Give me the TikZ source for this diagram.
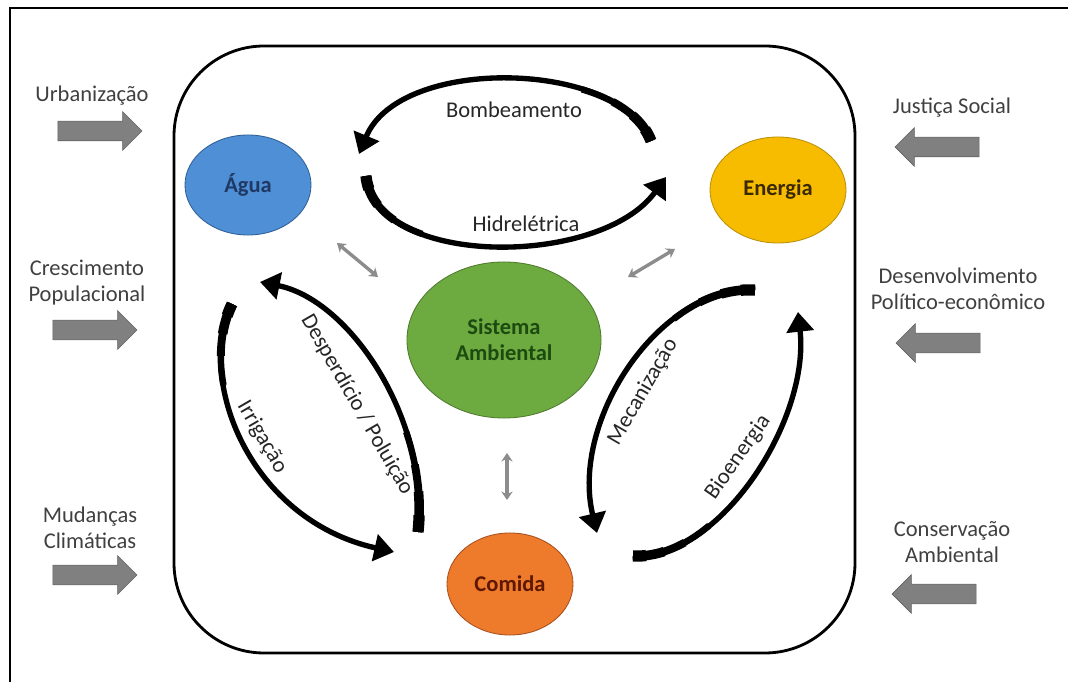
\documentclass[tikz,border=0pt]{standalone}
\usepackage{fontspec}
\setmainfont{Carlito}
\usetikzlibrary{arrows.meta,shapes.geometric,shapes.arrows,calc}

\definecolor{aguafill}{HTML}{4F8FD6}
\definecolor{aguaedge}{HTML}{2E5F95}
\definecolor{aguatext}{HTML}{1F3864}
\definecolor{energiafill}{HTML}{F7BC00}
\definecolor{energiaedge}{HTML}{B8900A}
\definecolor{energiatext}{HTML}{3B2A00}
\definecolor{sistemafill}{HTML}{6DAB40}
\definecolor{sistemaedge}{HTML}{4E7A2E}
\definecolor{sistematext}{HTML}{1D4A10}
\definecolor{comidafill}{HTML}{EE7A2C}
\definecolor{comidaedge}{HTML}{A65020}
\definecolor{comidatext}{HTML}{5E1800}

\begin{document}
\begin{tikzpicture}[x=0.025cm, y=-0.025cm,
    every node/.style={font=\fontsize{16}{18.5}\selectfont},
    panel/.style={line width=2pt, rounded corners=2.25cm},
    sphere/.style={ellipse, line width=0.6pt, inner sep=0pt, align=center,
        font=\fontsize{16}{18.5}\selectfont\bfseries},
    driver/.style={align=center, text=black!75},
    push/.style={single arrow, fill=black!50, draw=black!62, line width=0.4pt,
        minimum height=2.1cm, inner sep=0pt, inner ysep=0.2375cm,
        single arrow head extend=0.2375cm},
    flow/.style={line width=3.8pt, -{Triangle[width=19pt,length=14pt]}},
    twoway/.style={line width=2.4pt, black!45,
        {Stealth[length=6pt,width=8pt]}-{Stealth[length=6pt,width=8pt]}},
    arclabel/.style={text=black!85}]
\useasboundingbox (0,0) rectangle (1068,682);
% frame
\draw[line width=1.2pt] (1068,8) -- (10,8) -- (10,682);
\draw[panel] (174,46) rectangle (855,653);
% the four systems
\node[sphere, fill=aguafill, draw=aguaedge, text=aguatext,
    minimum width=3.15cm, minimum height=2.5cm] (agua) at (248,185) {Água};
\node[sphere, fill=energiafill, draw=energiaedge, text=energiatext,
    minimum width=3.4cm, minimum height=2.65cm] (energia) at (778,190) {Energia};
\node[sphere, fill=sistemafill, draw=sistemaedge, text=sistematext,
    minimum width=4.85cm, minimum height=3.9cm] (sistema) at (504,340) {Sistema\\Ambiental};
\node[sphere, fill=comidafill, draw=comidaedge, text=comidatext,
    minimum width=3.15cm, minimum height=2.55cm] (comida) at (510,584) {Comida};
% external drivers, left
\node[driver] (urb) at (92,96) {Urbanização};
\node[push] (urbarrow) at (95,131) {};
\node[driver] (cresc) at (87,283) {Crescimento\\Populacional};
\node[push] (crescarrow) at (90,330) {};
\node[driver] (mud) at (90,528) {Mudanças\\Climáticas};
\node[push] (mudarrow) at (90,575) {};
% external drivers, right
\node[driver] (just) at (952,108) {Justiça Social};
\node[push, shape border rotate=180] (justarrow) at (942,147) {};
\node[driver] (desenv) at (958,289) {Desenvolvimento\\Político-econômico};
\node[push, shape border rotate=180] (desenvarrow) at (943,343) {};
\node[driver] (cons) at (952,542) {Conservação\\Ambiental};
\node[push, shape border rotate=180] (consarrow) at (939,594) {};
% ends and handles of the loops
\coordinate (bomb-s) at (651,141);  \coordinate (bomb-c) at (620,60);
\coordinate (bomb-d) at (400,55);   \coordinate (bomb-e) at (359,154);
\coordinate (hidro-s) at (366,176); \coordinate (hidro-c) at (375,268);
\coordinate (hidro-d) at (600,268); \coordinate (hidro-e) at (666,177);
\coordinate (desp-s) at (418,532);  \coordinate (desp-c) at (430,420);
\coordinate (desp-d) at (350,300);  \coordinate (desp-e) at (260,282);
\coordinate (irrig-s) at (232,304); \coordinate (irrig-c) at (195,380);
\coordinate (irrig-d) at (250,520); \coordinate (irrig-e) at (394,552);
\coordinate (mecan-s) at (755,290); \coordinate (mecan-c) at (660,285);
\coordinate (mecan-d) at (570,420); \coordinate (mecan-e) at (597,533);
\coordinate (bioen-s) at (633,556); \coordinate (bioen-c) at (720,560);
\coordinate (bioen-d) at (810,420); \coordinate (bioen-e) at (798,312);
% loops, with a tail that thins out
\foreach \l in {bomb,hidro,desp,irrig,mecan,bioen} {
    \draw[flow] (\l-s) .. controls (\l-c) and (\l-d) .. (\l-e);
    \foreach \t/\w in {0.3/4.6pt,0.2/5.6pt,0.12/6.8pt,0.05/8pt} {
        \coordinate (q1) at ($(\l-s)!\t!(\l-c)$);
        \coordinate (m) at ($(\l-c)!\t!(\l-d)$);
        \coordinate (q2) at ($(q1)!\t!(m)$);
        \coordinate (n) at ($(\l-d)!\t!(\l-e)$);
        \coordinate (r) at ($(m)!\t!(n)$);
        \coordinate (q3) at ($(q2)!\t!(r)$);
        \draw[line width=\w] (\l-s) .. controls (q1) and (q2) .. (q3);
    }
}
% loop labels
\node[arclabel] (bomb) at (514,110) {Bombeamento};
\node[arclabel] (hidro) at (526,224) {Hidrelétrica};
\node[arclabel, rotate=-60] (desp) at (357,405) {Desperdício / Poluição};
\node[arclabel, rotate=-60] (irrig) at (262,437) {Irrigação};
\node[arclabel, rotate=60] (mecan) at (643,392) {Mecanização};
\node[arclabel, rotate=55] (bioen) at (738,457) {Bioenergia};
% links to the environment
\coordinate (as-a) at (337,243); \coordinate (as-s) at (378,277);
\coordinate (es-e) at (675,249); \coordinate (es-s) at (628,277);
\coordinate (cs-s) at (507,453); \coordinate (cs-c) at (507,500);
\draw[twoway] (as-a) -- (as-s);
\draw[twoway] (es-e) -- (es-s);
\draw[twoway] (cs-s) -- (cs-c);
\end{tikzpicture}
\end{document}
